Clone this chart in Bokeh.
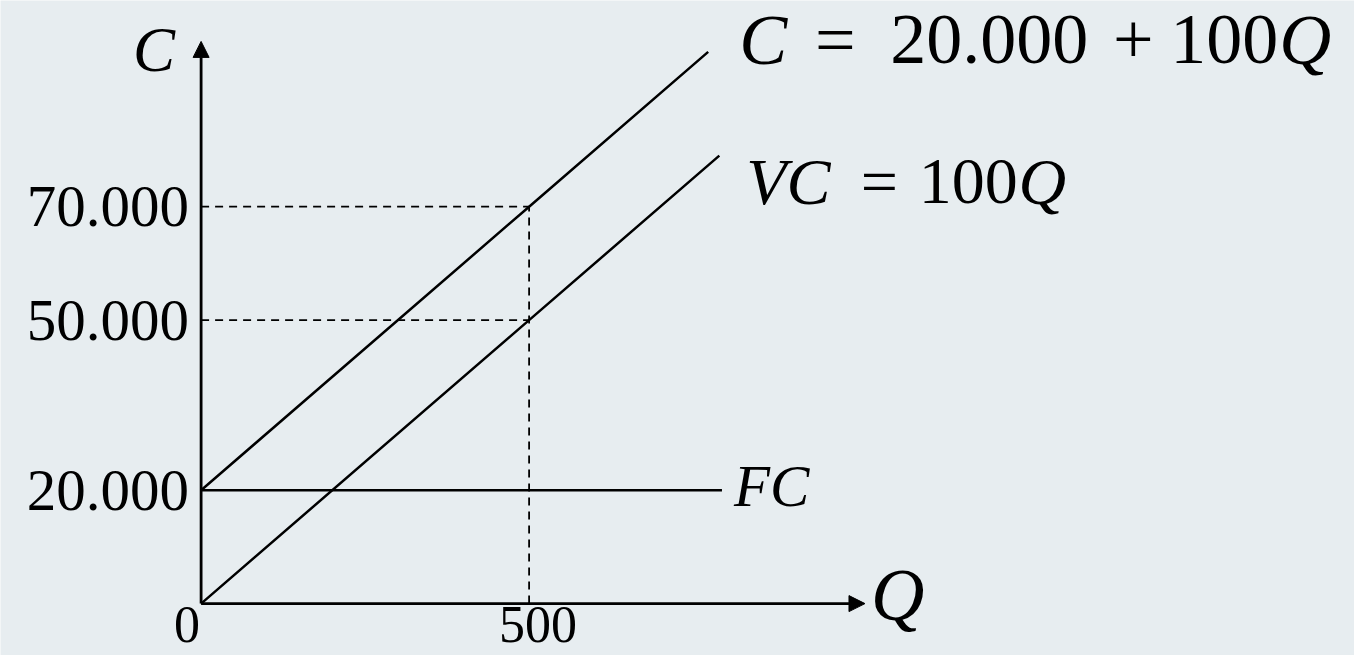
from bokeh.plotting import figure
from bokeh.models import Range1d, Arrow, NormalHead
from bokeh.core.properties import value
from bokeh.embed import file_html
from bokeh.resources import INLINE

# ---------------- data ----------------
cost_ticks = [20000, 50000, 70000]
cost_tick_labels = ["20.000", "50.000", "70.000"]
q_ticks = [0, 500]
q_tick_labels = ["0", "500"]

# total cost C = 20.000 + 100Q
c_q = [0, 500, 773]
c_cost = [20000, 70000, 97300]
# variable cost VC = 100Q
vc_q = [0, 500, 790]
vc_cost = [0, 50000, 79000]
# fixed cost FC
fc_q = [0, 794]
fc_cost = [20000, 20000]

# reading guides at Q = 500
guide_q = 500
guide_costs = [50000, 70000]

# axis extents (arrow tips)
q_axis_end = 1012
c_axis_end = 99150

# ---------------- layout / style ----------------
W, H = 1354, 655
PX_PER_Q = 0.656
PX_PER_C = 5.67 / 1000.0
ORIGIN_X = 200.6        # px from left of canvas
ORIGIN_Y = 51.9         # px from bottom of canvas
BG = "#e7edf0"
FONT = value("Liberation Serif")
INK = "#000000"

p = figure(
    width=W, height=H,
    x_range=Range1d(-ORIGIN_X / PX_PER_Q, (W - ORIGIN_X) / PX_PER_Q),
    y_range=Range1d(-ORIGIN_Y / PX_PER_C, (H - ORIGIN_Y) / PX_PER_C),
    x_axis_location=None, y_axis_location=None,
    output_backend="svg", toolbar_location=None, min_border=0, title=None,
)
p.grid.visible = False
p.outline_line_color = None
p.background_fill_color = BG
p.border_fill_color = BG

# axes with arrow heads
p.add_layout(Arrow(end=NormalHead(size=16, fill_color=INK, line_color=INK, line_width=1),
                   x_start=0, y_start=0, x_end=0, y_end=c_axis_end,
                   line_color=INK, line_width=2.8))
p.add_layout(Arrow(end=NormalHead(size=16, fill_color=INK, line_color=INK, line_width=1),
                   x_start=0, y_start=0, x_end=q_axis_end, y_end=0,
                   line_color=INK, line_width=2.8))

# dashed guides
p.segment(x0=[0] * len(guide_costs), y0=guide_costs,
          x1=[guide_q] * len(guide_costs), y1=guide_costs,
          line_color=INK, line_width=1.8, line_dash="8 6")
p.segment(x0=[guide_q], y0=[0], x1=[guide_q], y1=[max(guide_costs)],
          line_color=INK, line_width=1.8, line_dash="8 6")

# cost curves
p.line(c_q, c_cost, line_color=INK, line_width=2.5)
p.line(vc_q, vc_cost, line_color=INK, line_width=2.5)
p.line(fc_q, fc_cost, line_color=INK, line_width=2.5)

# tick labels
p.text(x=[0] * len(cost_ticks), y=cost_ticks, text=cost_tick_labels,
       text_font=FONT, text_font_size=value("59px"), text_color=INK,
       text_align="right", text_baseline="alphabetic", x_offset=-12, y_offset=0)
for q, lab in zip(q_ticks, q_tick_labels):
    p.text(x=[q], y=[0], text=[lab], text_font=FONT, text_font_size=value("52px"),
           text_color=INK, text_align="right" if q == 0 else "center",
           text_baseline="alphabetic", x_offset=-1 if q == 0 else 9, y_offset=21)

# axis titles
p.text(x=[0], y=[c_axis_end], text=["C"], text_font=FONT, text_font_size=value("63px"),
       text_font_style="italic", text_color=INK, text_align="left",
       text_baseline="alphabetic", x_offset=-68, y_offset=9)
p.text(x=[q_axis_end], y=[0], text=["Q"], text_font=FONT, text_font_size=value("74px"),
       text_font_style="italic", text_color=INK, text_align="left",
       text_baseline="alphabetic", x_offset=6, y_offset=-9)

# FC label
p.text(x=[fc_q[-1]], y=[fc_cost[-1]], text=["FC"], text_font=FONT,
       text_font_size=value("59px"), text_font_style="italic", text_color=INK,
       text_align="left", text_baseline="alphabetic", x_offset=12, y_offset=-4)


def equation(xq, yc, pieces, size, dy):
    for txt, italic, dx in pieces:
        p.text(x=[xq], y=[yc], text=[txt], text_font=FONT, text_font_size=value(size),
               text_font_style="italic" if italic else "normal", text_color=INK,
               text_align="center", text_baseline="alphabetic", x_offset=dx, y_offset=dy)


# C = 20.000 + 100Q
equation(c_q[-1], c_cost[-1],
         [("C", True, 55), ("=", False, 127), ("20.000", False, 281),
          ("+", False, 425), ("100", False, 516), ("Q", True, 597)],
         "72px", -12)
# VC = 100Q
equation(vc_q[-1], vc_cost[-1],
         [("VC", True, 69), ("=", False, 160), ("100", False, 249), ("Q", True, 323)],
         "66px", 26)

open("out.html", "w").write(file_html(p, INLINE))
